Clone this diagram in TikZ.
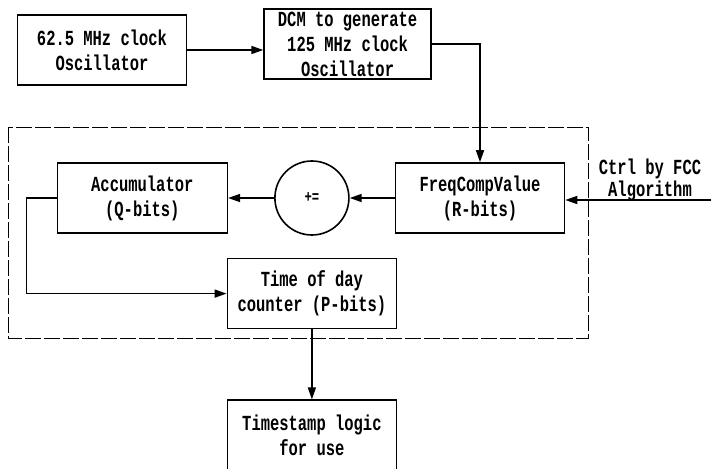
\documentclass[tikz,border=0pt]{standalone}
\usepackage{fontspec}
\newfontfamily\blkfont[FakeStretch=0.72]{Liberation Mono}
\usetikzlibrary{positioning,arrows.meta}

\begin{document}
\begin{tikzpicture}[x=1pt, y=-1pt, line width=1.6pt, >={Triangle[length=12pt,width=8pt]},
    blk/.style={draw, minimum width=169pt, minimum height=70pt, inner sep=2pt, align=center,
      font=\blkfont\bfseries\fontsize{21.5}{25}\selectfont},
    sum/.style={draw, circle, minimum size=74pt, inner sep=0pt, font=\blkfont\bfseries\fontsize{17}{20}\selectfont},
    frame/.style={line width=1pt, dash pattern=on 16pt off 3pt}]
         \useasboundingbox (0,0) rectangle (711,468);

         % clock chain
         \node[blk] (osc) at (102,50) {62.5 MHz clock\\Oscillator};
         \node[blk] (dcm) [right=76pt of osc, yshift=6pt, minimum width=167pt] {DCM to generate\\125 MHz clock\\Oscillator};

         % time of day core
         \node[blk] (freq) at (480,198) {FreqCompValue\\(R-bits)};
         \node[sum] (plus) [left=45pt of freq] {+=};
         \node[blk] (acc) [left=46pt of plus, minimum width=170pt] {Accumulator\\(Q-bits)};
         \node[blk] (tod) [below=22pt of plus] {Time of day\\counter (P-bits)};
         \node[blk] (stamp) [below=70pt of tod] {Timestamp logic\\for use};
         \node[align=center, font=\blkfont\bfseries\fontsize{21.5}{22}\selectfont] (ctrl) at (650,180) {Ctrl by FCC\\Algorithm};
         \coordinate (fcc) at (711,200);

         \draw[frame] (8,127) rectangle (588,338);

         \draw[->] (osc.east) -- (osc.east -| dcm.west);
         \draw[->] (dcm.east) -| (freq.north);
         \draw[->] (fcc) -- (fcc -| freq.east);
         \path[->]
         (freq) edge (plus)
         (plus) edge (acc)
         (tod) edge (stamp);
         \draw[->] (acc.west) -- ++(-30pt,0pt) |- (tod.west);
\end{tikzpicture}
\end{document}
